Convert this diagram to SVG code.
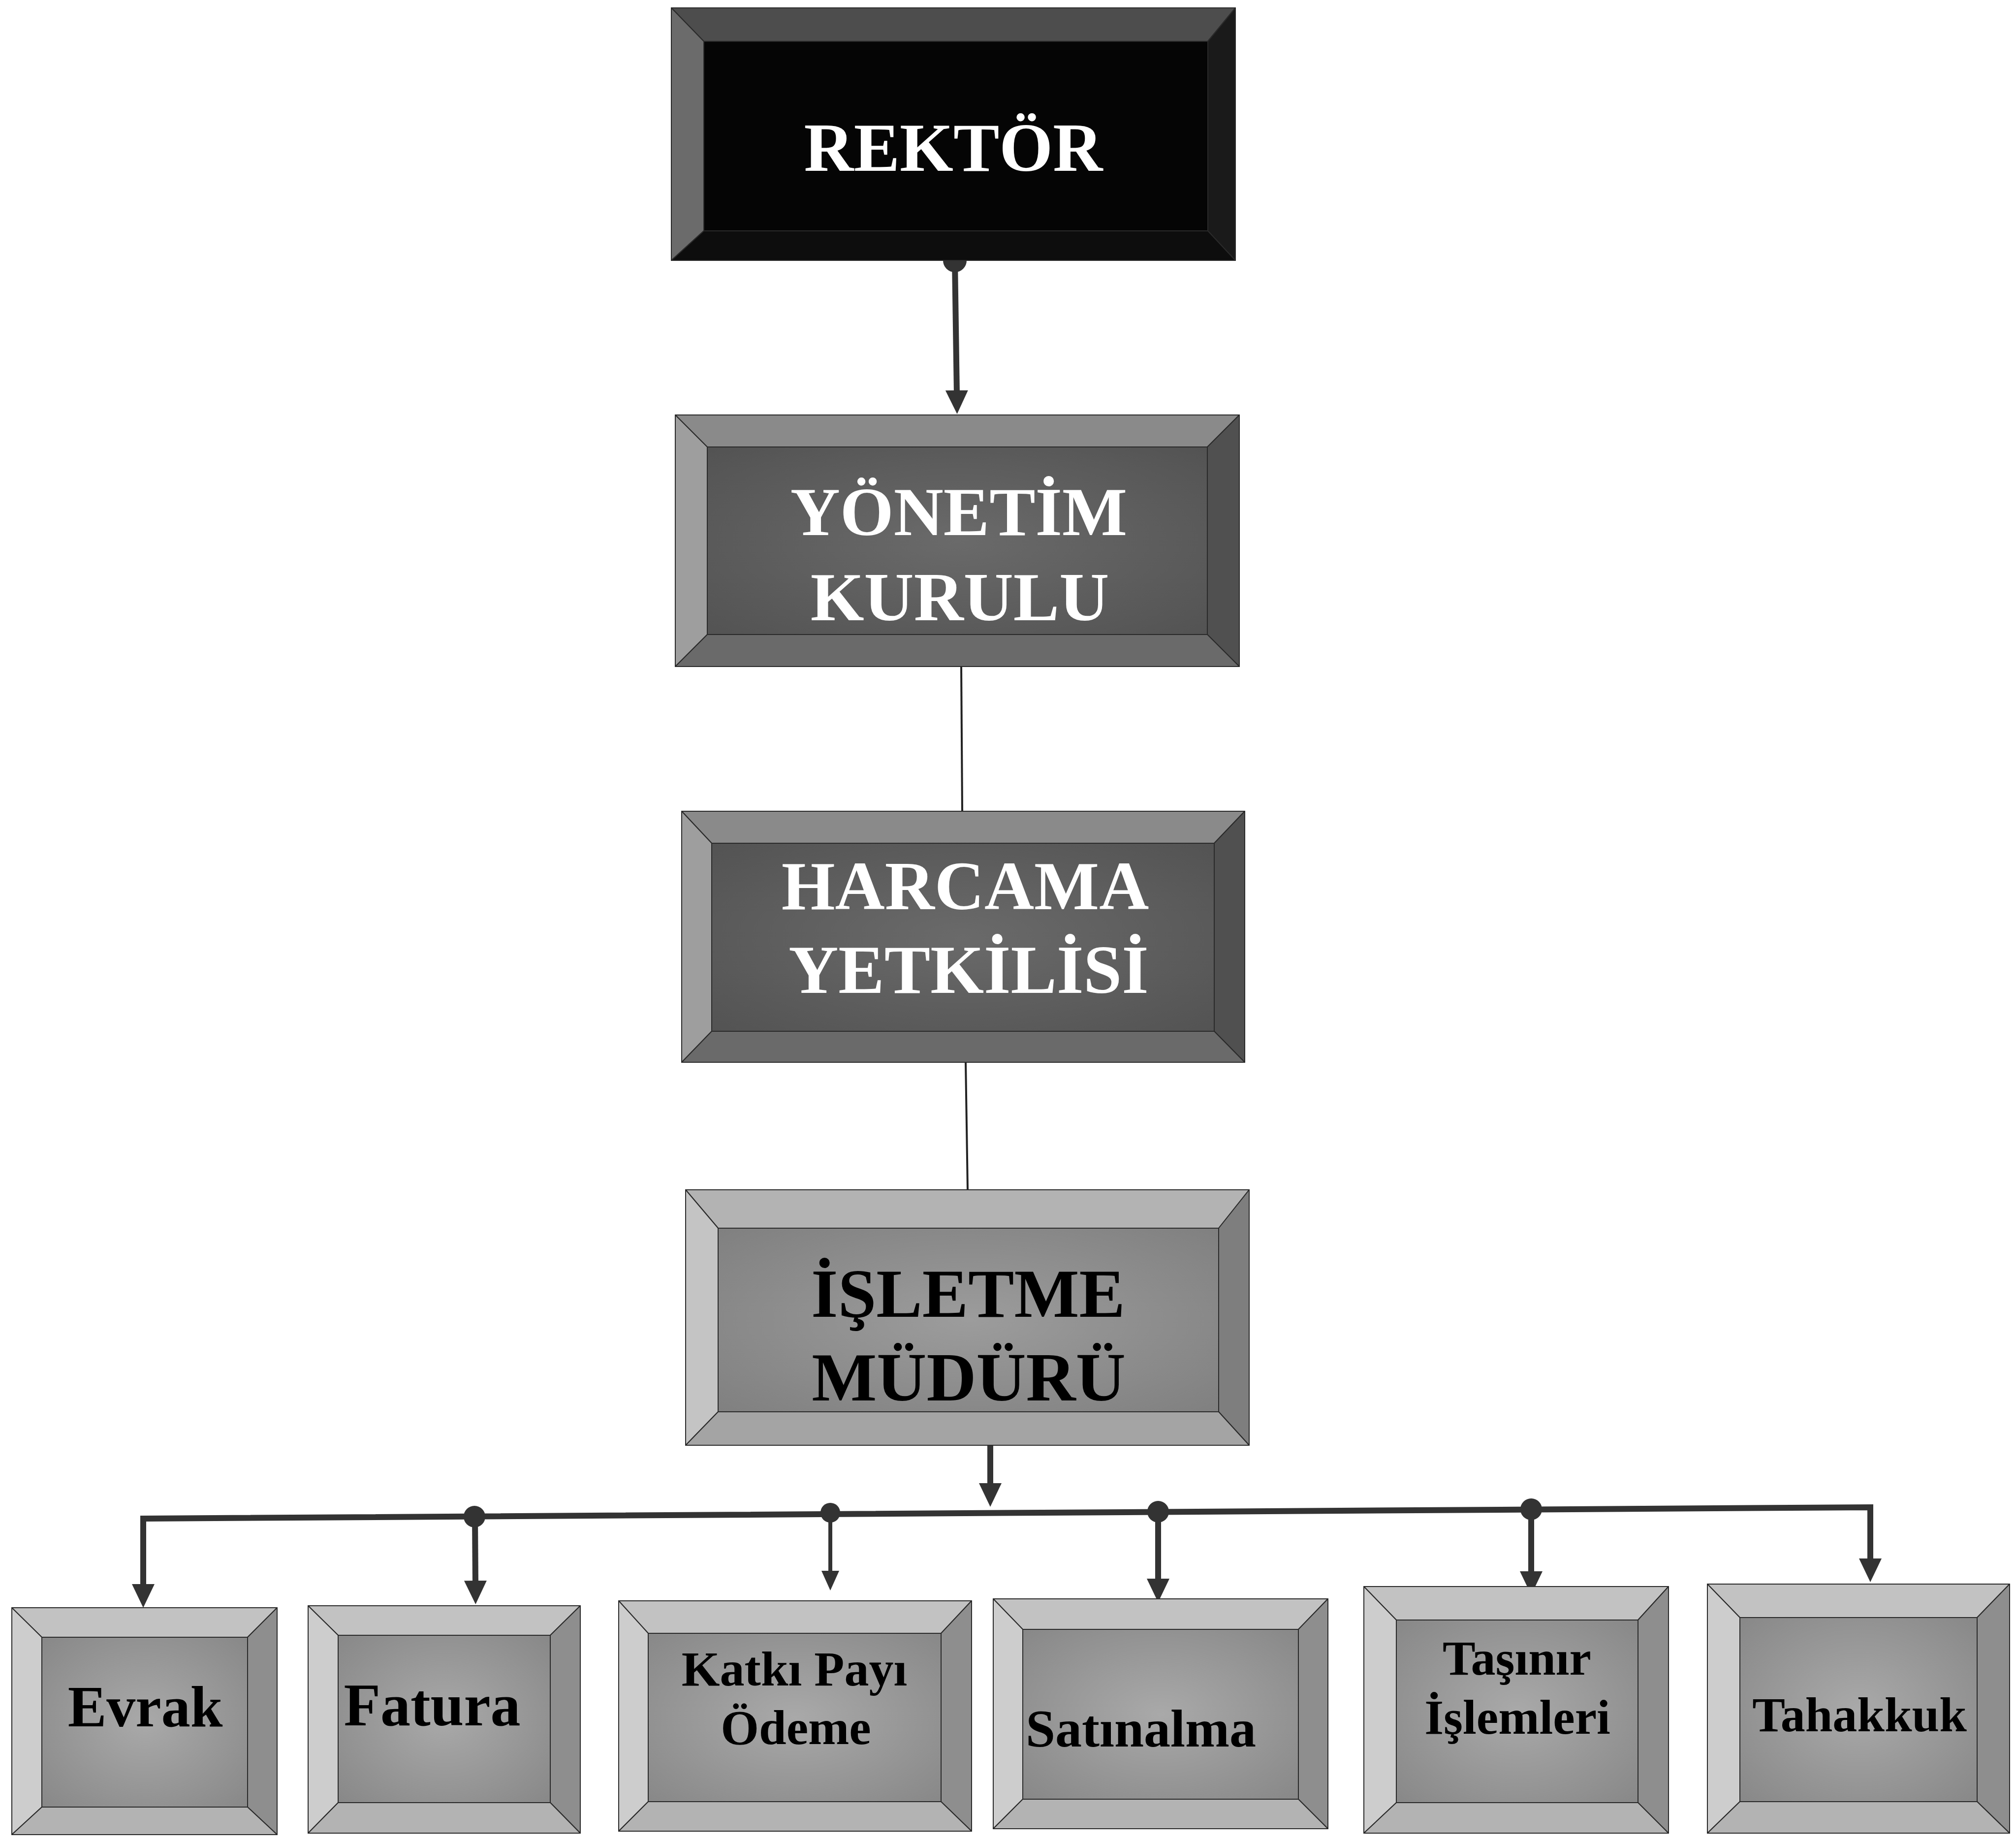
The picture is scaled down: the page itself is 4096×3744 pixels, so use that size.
<svg xmlns="http://www.w3.org/2000/svg" width="4096" height="3744" viewBox="0 0 4096 3744">
<style>
  text { font-family: "Liberation Serif", "Times New Roman", serif; font-weight: bold; text-anchor: middle; }
  .node polygon, .node rect { stroke: #2a2a2a; stroke-width: 2; stroke-linejoin: round; }
  .dark .t { fill: #4d4d4d; } .dark .l { fill: #6b6b6b; } .dark .r { fill: #1a1a1a; } .dark .b { fill: #0d0d0d; } .dark .f { fill: #050505; }
  .dark text { fill: #ffffff; font-size: 140px; }
  .mid .t { fill: #8a8a8a; } .mid .l { fill: #9e9e9e; } .mid .r { fill: #505050; } .mid .b { fill: #6a6a6a; } .mid .f { fill: url(#gMid); }
  .mid text { fill: #ffffff; font-size: 140px; }
  .light .t { fill: #b3b3b3; } .light .l { fill: #c4c4c4; } .light .r { fill: #7e7e7e; } .light .b { fill: #a4a4a4; } .light .f { fill: url(#gLight); }
  .light text { fill: #000000; font-size: 140px; }
  .pale .t { fill: #c2c2c2; } .pale .l { fill: #cdcdcd; } .pale .r { fill: #8e8e8e; } .pale .b { fill: #b3b3b3; } .pale .f { fill: url(#gPale); }
  .pale text { fill: #000000; font-size: 100px; }
  .thick { stroke: #333333; stroke-width: 12; fill: none; }
  .medium { stroke: #333333; stroke-width: 8; fill: none; }
  .thin { stroke: #222222; stroke-width: 4; fill: none; }
  .dot { fill: #333333; }
</style>
<defs>
  <radialGradient id="gMid" cx="0.5" cy="0.5" r="0.7">
    <stop offset="0" stop-color="#6a6a6a"/>
    <stop offset="1" stop-color="#535353"/>
  </radialGradient>
  <radialGradient id="gLight" cx="0.5" cy="0.5" r="0.7">
    <stop offset="0" stop-color="#9c9c9c"/>
    <stop offset="1" stop-color="#808080"/>
  </radialGradient>
  <radialGradient id="gPale" cx="0.5" cy="0.5" r="0.7">
    <stop offset="0" stop-color="#a9a9a9"/>
    <stop offset="1" stop-color="#888888"/>
  </radialGradient>
  <marker id="arr" markerUnits="userSpaceOnUse" markerWidth="48" markerHeight="48" refX="8" refY="23" orient="auto" viewBox="0 0 48 46">
    <path d="M0,0 L48,23 L0,46 Z" fill="#333333"/>
  </marker>
  <marker id="arrS" markerUnits="userSpaceOnUse" markerWidth="40" markerHeight="36" refX="6" refY="18" orient="auto" viewBox="0 0 40 36">
    <path d="M0,0 L40,18 L0,36 Z" fill="#333333"/>
  </marker>
</defs>
<rect x="0" y="0" width="4096" height="3744" fill="#ffffff"/>

<g id="connectors">
  <circle class="dot" cx="1940" cy="529" r="24"/>
  <path class="thick" d="M1940,529 L1944,801" marker-end="url(#arr)"/>
  <path class="thin" d="M1953,1354 L1955,1648"/>
  <path class="thin" d="M1962,2158 L1966,2417"/>
  <path class="thick" d="M2012,2936 L2012,3021" marker-end="url(#arr)"/>
  <path class="thick" d="M291,3226 L291,3085 L3800,3062 L3800,3174" marker-end="url(#arr)"/>
  <path class="thick" d="M291,3090 L291,3226" marker-end="url(#arr)"/>
  <circle class="dot" cx="964" cy="3081" r="22"/>
  <path class="thick" d="M965,3081 L966,3219" marker-end="url(#arr)"/>
  <circle class="dot" cx="1687" cy="3073" r="20"/>
  <path class="medium" d="M1687,3073 L1687,3197" marker-end="url(#arrS)"/>
  <circle class="dot" cx="2353" cy="3071" r="22"/>
  <path class="thick" d="M2353,3071 L2353,3215" marker-end="url(#arr)"/>
  <circle class="dot" cx="3111" cy="3066" r="22"/>
  <path class="thick" d="M3111,3066 L3111,3200" marker-end="url(#arr)"/>
</g>

<g id="node-rektor" class="node dark">
  <polygon class="t" points="1364,16 2510,16 2454,84 1430,84"/>
  <polygon class="l" points="1364,16 1430,84 1430,469 1364,529"/>
  <polygon class="r" points="2510,16 2510,529 2454,469 2454,84"/>
  <polygon class="b" points="1364,529 2510,529 2454,469 1430,469"/>
  <rect class="f" x="1430" y="84" width="1024" height="385"/>
  <text x="1937" y="347">REKTÖR</text>
</g>

<g id="node-yonetim" class="node mid">
  <polygon class="t" points="1372,843 2518,843 2453,908 1437,908"/>
  <polygon class="l" points="1372,843 1437,908 1437,1289 1372,1354"/>
  <polygon class="r" points="2518,843 2518,1354 2453,1289 2453,908"/>
  <polygon class="b" points="1372,1354 2518,1354 2453,1289 1437,1289"/>
  <rect class="f" x="1437" y="908" width="1016" height="381"/>
  <text x="1948" y="1087">YÖNETİM</text>
  <text x="1950" y="1260">KURULU</text>
</g>

<g id="node-harcama" class="node mid">
  <polygon class="t" points="1385,1648 2529,1648 2467,1713 1446,1713"/>
  <polygon class="l" points="1385,1648 1446,1713 1446,2095 1385,2158"/>
  <polygon class="r" points="2529,1648 2529,2158 2467,2095 2467,1713"/>
  <polygon class="b" points="1385,2158 2529,2158 2467,2095 1446,2095"/>
  <rect class="f" x="1446" y="1713" width="1021" height="382"/>
  <text x="1961" y="1847">HARCAMA</text>
  <text x="1968" y="2017">YETKİLİSİ</text>
</g>

<g id="node-isletme" class="node light">
  <polygon class="t" points="1393,2417 2538,2417 2476,2495 1459,2495"/>
  <polygon class="l" points="1393,2417 1459,2495 1459,2868 1393,2936"/>
  <polygon class="r" points="2538,2417 2538,2936 2476,2868 2476,2495"/>
  <polygon class="b" points="1393,2936 2538,2936 2476,2868 1459,2868"/>
  <rect class="f" x="1459" y="2495" width="1017" height="373"/>
  <text x="1967" y="2675">İŞLETME</text>
  <text x="1968" y="2845">MÜDÜRÜ</text>
</g>

<g id="node-evrak" class="node pale">
  <polygon class="t" points="24,3266 563,3266 503,3326 85,3326"/>
  <polygon class="l" points="24,3266 85,3326 85,3671 24,3727"/>
  <polygon class="r" points="563,3266 563,3727 503,3671 503,3326"/>
  <polygon class="b" points="24,3727 563,3727 503,3671 85,3671"/>
  <rect class="f" x="85" y="3326" width="418" height="345"/>
  <text x="295" y="3507" style="font-size:118px">Evrak</text>
</g>

<g id="node-fatura" class="node pale">
  <polygon class="t" points="626,3262 1179,3262 1118,3322 687,3322"/>
  <polygon class="l" points="626,3262 687,3322 687,3662 626,3724"/>
  <polygon class="r" points="1179,3262 1179,3724 1118,3662 1118,3322"/>
  <polygon class="b" points="626,3724 1179,3724 1118,3662 687,3662"/>
  <rect class="f" x="687" y="3322" width="431" height="340"/>
  <text x="878" y="3505" style="font-size:122px">Fatura</text>
</g>

<g id="node-katki" class="node pale">
  <polygon class="t" points="1257,3252 1974,3252 1912,3318 1317,3318"/>
  <polygon class="l" points="1257,3252 1317,3318 1317,3660 1257,3720"/>
  <polygon class="r" points="1974,3252 1974,3720 1912,3660 1912,3318"/>
  <polygon class="b" points="1257,3720 1974,3720 1912,3660 1317,3660"/>
  <rect class="f" x="1317" y="3318" width="595" height="342"/>
  <text x="1614" y="3424">Katkı Payı</text>
  <text x="1617" y="3543">Ödeme</text>
</g>

<g id="node-satinalma" class="node pale">
  <polygon class="t" points="2018,3248 2698,3248 2638,3310 2078,3310"/>
  <polygon class="l" points="2018,3248 2078,3310 2078,3655 2018,3715"/>
  <polygon class="r" points="2698,3248 2698,3715 2638,3655 2638,3310"/>
  <polygon class="b" points="2018,3715 2698,3715 2638,3655 2078,3655"/>
  <rect class="f" x="2078" y="3310" width="560" height="345"/>
  <text x="2318" y="3548" style="font-size:108px">Satınalma</text>
</g>

<g id="node-tasinir" class="node pale">
  <polygon class="t" points="2771,3223 3390,3223 3328,3291 2837,3291"/>
  <polygon class="l" points="2771,3223 2837,3291 2837,3662 2771,3724"/>
  <polygon class="r" points="3390,3223 3390,3724 3328,3662 3328,3291"/>
  <polygon class="b" points="2771,3724 3390,3724 3328,3662 2837,3662"/>
  <rect class="f" x="2837" y="3291" width="491" height="371"/>
  <text x="3082" y="3402">Taşınır</text>
  <text x="3083" y="3522">İşlemleri</text>
</g>

<g id="node-tahakkuk" class="node pale">
  <polygon class="t" points="3469,3218 4083,3218 4017,3286 3535,3286"/>
  <polygon class="l" points="3469,3218 3535,3286 3535,3660 3469,3724"/>
  <polygon class="r" points="4083,3218 4083,3724 4017,3660 4017,3286"/>
  <polygon class="b" points="3469,3724 4083,3724 4017,3660 3535,3660"/>
  <rect class="f" x="3535" y="3286" width="482" height="374"/>
  <text x="3778" y="3517">Tahakkuk</text>
</g>
</svg>
